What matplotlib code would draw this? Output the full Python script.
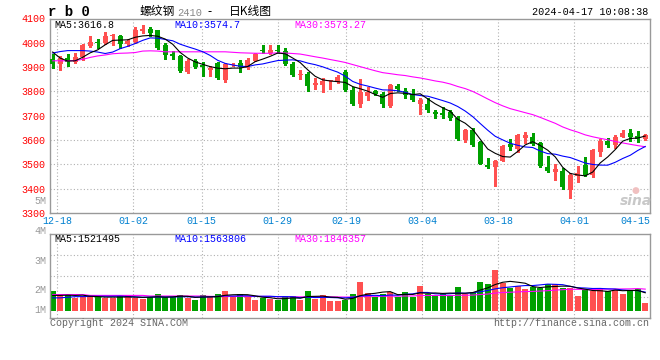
import numpy as np
import pandas as pd
import matplotlib
matplotlib.use("Agg")
import matplotlib.pyplot as plt

# ---------------- data ----------------
dates = ["12-15", "12-18", "12-19", "12-20", "12-21", "12-22", "12-25", "12-26", "12-27", "12-28",
         "12-29", "01-02", "01-03", "01-04", "01-05", "01-08", "01-09", "01-10", "01-11", "01-12",
         "01-15", "01-16", "01-17", "01-18", "01-19", "01-22", "01-23", "01-24", "01-25", "01-26",
         "01-29", "01-30", "01-31", "02-01", "02-02", "02-05", "02-06", "02-07", "02-08", "02-19",
         "02-20", "02-21", "02-22", "02-23", "02-26", "02-27", "02-28", "02-29", "03-01", "03-04",
         "03-05", "03-06", "03-07", "03-08", "03-11", "03-12", "03-13", "03-14", "03-15", "03-18",
         "03-19", "03-20", "03-21", "03-22", "03-25", "03-26", "03-27", "03-28", "03-29", "04-01",
         "04-02", "04-03", "04-08", "04-09", "04-10", "04-11", "04-12", "04-15", "04-16", "04-17"]

opens = [3932, 3912, 3937, 3923, 3941, 3985, 4000, 3999, 4027, 4030,
         3994, 4003, 4048, 4055, 4051, 3989, 3955, 3944, 3879, 3927,
         3907, 3889, 3916, 3849, 3910, 3916, 3896, 3927, 3971, 3958,
         3971, 3968, 3914, 3869, 3873, 3825, 3827, 3841, 3841, 3882,
         3807, 3749, 3782, 3800, 3789, 3741, 3823, 3803, 3789, 3749,
         3749, 3714, 3711, 3714, 3690, 3601, 3640, 3590, 3499, 3488,
         3515, 3584, 3564, 3610, 3611, 3586, 3488, 3467, 3473, 3395,
         3453, 3497, 3456, 3552, 3596, 3579, 3614, 3630, 3618, 3604]
highs = [3955, 3945, 3952, 3957, 3996, 4030, 4014, 4044, 4037, 4034,
         4015, 4064, 4075, 4064, 4053, 3999, 3966, 3948, 3934, 3934,
         3921, 3903, 3921, 3918, 3918, 3930, 3938, 3958, 3989, 3989,
         3993, 3978, 3923, 3889, 3879, 3855, 3855, 3848, 3868, 3889,
         3818, 3852, 3818, 3807, 3797, 3832, 3832, 3814, 3811, 3775,
         3773, 3725, 3734, 3725, 3697, 3645, 3649, 3595, 3526, 3519,
         3581, 3604, 3625, 3633, 3627, 3593, 3536, 3501, 3484, 3463,
         3493, 3532, 3562, 3603, 3610, 3621, 3641, 3644, 3638, 3623]
lows = [3896, 3890, 3904, 3918, 3930, 3982, 3978, 3996, 3989, 3979,
        3987, 4000, 4041, 4030, 3975, 3934, 3934, 3882, 3877, 3896,
        3862, 3863, 3851, 3838, 3904, 3879, 3893, 3925, 3958, 3955,
        3958, 3907, 3864, 3852, 3800, 3810, 3796, 3811, 3834, 3803,
        3745, 3734, 3766, 3784, 3738, 3738, 3800, 3775, 3759, 3708,
        3714, 3690, 3690, 3681, 3601, 3594, 3574, 3501, 3485, 3410,
        3512, 3558, 3549, 3589, 3579, 3490, 3470, 3436, 3399, 3360,
        3429, 3452, 3449, 3534, 3573, 3566, 3611, 3597, 3590, 3600]
closes = [3914, 3937, 3923, 3940, 3989, 4005, 3998, 4027, 4031, 3996,
          4009, 4051, 4055, 4041, 3979, 3951, 3944, 3886, 3927, 3900,
          3900, 3897, 3855, 3914, 3914, 3900, 3930, 3955, 3966, 3971,
          3968, 3914, 3868, 3872, 3823, 3834, 3841, 3845, 3858, 3807,
          3749, 3796, 3796, 3789, 3749, 3827, 3810, 3786, 3763, 3766,
          3722, 3708, 3704, 3690, 3604, 3640, 3581, 3503, 3488, 3515,
          3574, 3570, 3619, 3622, 3582, 3495, 3474, 3481, 3408, 3456,
          3463, 3456, 3559, 3596, 3579, 3614, 3630, 3614, 3604, 3621]
# volume in millions
volumes = [1.66, 1.31, 1.31, 1.09, 1.23, 1.23, 1.17, 1.09, 1.09, 1.23,
           1.31, 1.09, 0.98, 1.17, 1.39, 1.17, 1.17, 1.31, 1.09, 0.96,
           1.31, 1.23, 1.39, 1.66, 1.17, 1.39, 1.17, 0.93, 1.09, 0.98,
           0.96, 1.23, 1.23, 0.96, 1.66, 1.04, 1.31, 0.84, 0.84, 0.90,
           1.39, 2.40, 1.50, 1.17, 1.39, 1.58, 1.17, 1.58, 1.17, 2.05,
           1.39, 1.31, 1.39, 1.31, 1.99, 1.39, 1.58, 2.40, 2.21, 3.36,
           2.32, 1.94, 2.05, 1.80, 1.99, 1.94, 2.21, 2.21, 1.94, 1.94,
           1.23, 1.72, 1.66, 1.86, 1.66, 1.78, 1.45, 1.78, 1.86, 0.71]

# moving-average values at the start of the window (history before the window)
ma5_head = [3962, 3937, 3925, 3926]
ma10_head = [3958, 3964, 3968, 3968, 3968, 3966, 3962, 3956, 3962]
ma30_head = [3926, 3926, 3926, 3927, 3932, 3940, 3946, 3950, 3955, 3957,
             3958, 3960, 3966, 3967, 3966, 3963, 3963, 3963, 3963, 3963,
             3963, 3963, 3963, 3963, 3961, 3959, 3958, 3957, 3957]
vma5_head = [1.30, 1.30, 1.32, 1.30]
vma10_head = [1.10, 1.10, 1.15, 1.20, 1.20, 1.22, 1.23, 1.23, 1.23]
vma30_head = [1.37] * 5 + [1.30] * 8 + [1.25] * 8 + [1.22] * 8

price_ticks = [3300, 3400, 3500, 3600, 3700, 3800, 3900, 4000, 4100]
tick_dates = ["12-18", "01-02", "01-15", "01-29", "02-19", "03-04", "03-18", "04-01", "04-15"]
grid_dates = tick_dates[:-1]

ma_labels = ["MA5:3616.8", "MA10:3574.7", "MA30:3573.27"]
vma_labels = ["MA5:1521495", "MA10:1563806", "MA30:1846357"]
vol_labels = ["5M", "4M", "3M", "2M", "1M"]

# ---------------- helpers ----------------
W, H = 660, 360
def fx(x):
    return x / W
def fy(y):
    return 1 - y / H

def rolling(vals, n, head):
    r = pd.Series(vals, dtype=float).rolling(n).mean().to_numpy()
    return np.concatenate([np.array(head, dtype=float), r[n - 1:]])

RED = "#ff5050"
GREEN = "#00a000"
GRID = "#b0b0b0"
BORDER = "#999999"
MONO = "Liberation Mono"
CJK = ["Noto Sans CJK SC", "DejaVu Sans"]

o = np.array(opens, float); c = np.array(closes, float)
hi = np.array(highs, float); lo = np.array(lows, float)
v = np.array(volumes, float)
n = len(c)
x = np.arange(n)
up = c >= o
cols = np.where(up, RED, GREEN)

ma5 = rolling(closes, 5, ma5_head)
ma10 = rolling(closes, 10, ma10_head)
ma30 = rolling(closes, 30, ma30_head)
vma5 = rolling(volumes, 5, vma5_head)
vma10 = rolling(volumes, 10, vma10_head)
vma30 = rolling(volumes, 30, vma30_head)

# gridline / label positions (chart's date grid runs on a slightly wider step)
def date_pos(d):
    return dates.index(d) * 1.0136 - 0.40

fig = plt.figure(figsize=(6.6, 3.6), dpi=100)
fig.patch.set_facecolor("white")

L, R = 50, 649.5
ax = fig.add_axes([fx(L), fy(213), fx(R) - fx(L), fy(18.5) - fy(213)])
axv = fig.add_axes([fx(L), fy(318.3), fx(R) - fx(L), fy(234.3) - fy(318.3)])

xlim = (-0.36, 79.57)
for a in (ax, axv):
    a.set_xlim(*xlim)
    for s in a.spines.values():
        s.set_color(BORDER)
        s.set_linewidth(1.0)
    a.tick_params(length=0)

# ---- price panel ----
ax.set_ylim(3300, 4100)
ax.set_yticks(price_ticks)
ax.set_yticklabels([str(t) for t in price_ticks], color="#ff0000", fontsize=7.2, family=MONO)
ax.tick_params(axis="y", pad=3)
for t in price_ticks[1:-1]:
    ax.axhline(t, color=GRID, lw=0.8, ls=(0, (1, 2)), zorder=0)
for d in grid_dates:
    ax.axvline(date_pos(d), color=GRID, lw=0.8, ls=(0, (1, 2)), zorder=0)
ax.set_xticks([date_pos(d) for d in tick_dates])
ax.set_xticklabels(tick_dates, color="#0080d0", fontsize=7.2, family=MONO)
ax.tick_params(axis="x", pad=2)

ax.vlines(x, lo, hi, colors=cols, lw=0.8, zorder=2, antialiased=False)
body_h = np.maximum(np.abs(c - o), 3.5)
ax.bar(x, body_h, bottom=np.minimum(o, c), width=0.68, color=cols, linewidth=0,
       zorder=3, antialiased=False)

ax.plot(x, ma30, color="#ff00ff", lw=0.8, zorder=4)
ax.plot(x, ma10, color="#0000ff", lw=0.8, zorder=4)
ax.plot(x, ma5, color="#000000", lw=0.8, zorder=4)

# ---- volume panel ----
vlo, vhi = -0.57, 6.29
axv.set_ylim(vlo, vhi)
axv.set_yticks([])
axv.set_xticks([])
for f in (0.25, 0.5, 0.75):
    axv.axhline(vlo + f * (vhi - vlo), color=GRID, lw=0.8, ls=(0, (1, 2)), zorder=0)
for d in grid_dates:
    axv.axvline(date_pos(d), color=GRID, lw=0.8, ls=(0, (1, 2)), zorder=0)
axv.bar(x, v, width=0.82, color=cols, linewidth=0, zorder=2, antialiased=False)
axv.plot(x, vma30, color="#ff00ff", lw=0.8, zorder=4)
axv.plot(x, vma10, color="#0000ff", lw=0.8, zorder=4)
axv.plot(x, vma5, color="#000000", lw=0.8, zorder=4)

# ---------------- texts ----------------
def t(xp, yp, s, **kw):
    kw.setdefault("va", "center")
    fig.text(fx(xp), fy(yp), s, **kw)

t(48, 12, "r b 0", fontsize=10, family=MONO, weight="bold", color="black")
t(140, 12, "螺纹钢", fontsize=8.5, family=CJK, color="black")
t(177, 12.5, "2410", fontsize=7.5, family=MONO, color="#888888")
t(207, 12, "-", fontsize=8.5, family=CJK, color="black")
t(229, 12, "日K线图", fontsize=8.5, family=CJK, color="black")
t(648, 12, "2024-04-17 10:08:38", fontsize=7.3, family=MONO, color="black", ha="right")

ma_x = [54, 174.5, 294.3]
ma_c = ["black", "#0000ff", "#ff00ff"]
for xp, s, col in zip(ma_x, ma_labels, ma_c):
    t(xp, 24.5, s, fontsize=7.2, family=MONO, color=col)
for xp, s, col in zip(ma_x, vma_labels, ma_c):
    t(xp, 238.7, s, fontsize=7.2, family=MONO, color=col)

for yp, s in zip([201, 231, 261, 290, 310], vol_labels):
    t(46.5, yp, s, fontsize=7.2, family=MONO, color="#999999", ha="right")

t(50, 323.5, "Copyright 2024 SINA.COM", fontsize=7.2, family=MONO, color="#666666")
t(649, 323.5, "http://finance.sina.com.cn", fontsize=7.2, family=MONO, color="#666666", ha="right")

# sina watermark
t(636, 201, "sina", fontsize=10, family=["DejaVu Sans"], style="italic", weight="bold",
  color="#c8c8c8", ha="center")
t(635, 190, "●", fontsize=6.5, family=["DejaVu Sans"], color="#f0c0c0", ha="center")

fig.savefig("out.png", dpi=100, facecolor="white")
